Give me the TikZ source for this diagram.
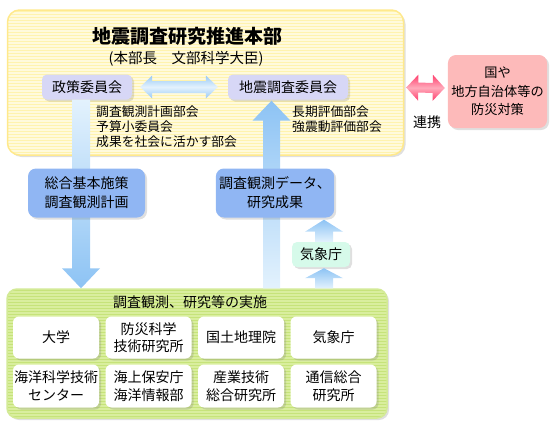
\documentclass[tikz,border=0pt]{standalone}
\usepackage{fontspec}
\setmainfont{Noto Sans CJK JP}
\usetikzlibrary{calc,shadows}
\definecolor{hbyellow}{HTML}{FFF3AE}
\definecolor{hbstripe}{HTML}{FFFADC}
\definecolor{hbedge}{HTML}{FFE98C}
\definecolor{jsgreen}{HTML}{C6E37A}
\definecolor{jsstripe}{HTML}{D9EE9E}
\definecolor{jsedge}{HTML}{D3EA96}
\definecolor{lavender}{HTML}{D7D7F6}
\definecolor{boxblue}{HTML}{90B6F3}
\definecolor{mint}{HTML}{D6FAEA}
\definecolor{pinkbox}{HTML}{FDBABA}
\definecolor{arrowlight}{HTML}{E3F2FD}
\definecolor{arrowblue}{HTML}{8DC3F4}
\definecolor{arrowpink}{HTML}{FF3D6C}
\definecolor{pinklight}{HTML}{FFAABA}

% block arrow: options, from, to, shaft half width, head half width, head length
\newcommand{\blockarrow}[6]{%
  \coordinate (hb) at ($(#3)!#6!(#2)$);
  \shade[#1] ($(#2)!#4!90:(#3)$) -- ($(hb)!#4!90:(#3)$) -- ($(hb)!#5!90:(#3)$)
    -- (#3) -- ($(hb)!#5!-90:(#3)$) -- ($(hb)!#4!-90:(#3)$)
    -- ($(#2)!#4!-90:(#3)$) -- cycle;
}
% double block arrow, same arguments
\newcommand{\dblarrow}[6]{%
  \coordinate (ha) at ($(#2)!#6!(#3)$);
  \coordinate (hb) at ($(#3)!#6!(#2)$);
  \shade[#1] (#2) -- ($(ha)!#5!90:(#3)$) -- ($(ha)!#4!90:(#3)$)
    -- ($(hb)!#4!90:(#3)$) -- ($(hb)!#5!90:(#3)$) -- (#3)
    -- ($(hb)!#5!-90:(#3)$) -- ($(hb)!#4!-90:(#3)$)
    -- ($(ha)!#4!-90:(#3)$) -- ($(ha)!#5!-90:(#3)$) -- cycle;
}

\begin{document}
\begin{tikzpicture}[x=1pt,y=-1pt,
  soft shadow/.style={drop shadow={opacity=0.25,shadow xshift=2pt,shadow yshift=-2pt}},
  honbu box/.style={rounded corners=12pt,fill=hbyellow,draw=hbedge,line width=1.5pt,
    soft shadow,path picture={\foreach \k in {0,...,52}
      \draw[hbstripe,line width=1.3pt] ($(path picture bounding box.north west)+(0,\k*3)$) -- ++(420,0);}},
  jisshi box/.style={rounded corners=10pt,fill=jsgreen,draw=jsedge,line width=1.5pt,
    soft shadow,path picture={\foreach \k in {0,...,46}
      \draw[jsstripe,line width=1.3pt] ($(path picture bounding box.north west)+(0,\k*3)$) -- ++(400,0);}},
  iinkai/.style={fill=lavender,rounded corners=5pt,minimum height=25pt,inner sep=2pt,
    font=\fontsize{14}{17}\selectfont,soft shadow},
  bukai/.style={align=left,inner sep=0pt,font=\fontsize{12.8}{14.6}\selectfont},
  shisaku/.style={fill=boxblue,rounded corners=8pt,minimum width=117pt,minimum height=49pt,
    align=center,font=\fontsize{14}{19}\selectfont,soft shadow},
  kikan/.style={fill=white,rounded corners=6pt,minimum width=86pt,minimum height=42pt,
    align=center,inner sep=1pt,font=\fontsize{14}{17.5}\selectfont,soft shadow},
  plain text/.style={inner sep=0pt,font=\fontsize{14}{17}\selectfont}]
  \useasboundingbox (0,0) rectangle (551,431);

  % containers
  \node[honbu box,minimum width=396pt,minimum height=145pt] (honbu) at (205.5,82.5) {};
  \node[jisshi box,minimum width=380pt,minimum height=129pt] (jisshi) at (197,353.5) {};

  % headquarters
  \node[inner sep=0pt,font=\bfseries\fontsize{19}{22}\selectfont] (title) at (187,36) {地震調査研究推進本部};
  \node[inner sep=0pt,font=\fontsize{14.5}{17}\selectfont] (chief) at (186,59) {(本部長　文部科学大臣)};
  \node[iinkai,minimum width=90pt] (seisaku) at (87,87) {政策委員会};
  \node[iinkai,minimum width=120pt] (jishin) at (288,87) {地震調査委員会};
  \node[bukai,anchor=north west] (keikaku) at (96,106) {調査観測計画部会\\予算小委員会\\成果を社会に活かす部会};
  \node[bukai,anchor=north west] (hyoka) at (292,106) {長期評価部会\\強震動評価部会};

  % research bodies
  \node[plain text] (jisshititle) at (190,302) {調査観測、研究等の実施};
  \node[kikan] (daigaku) at (56,337.5) {大学};
  \node[kikan] (bosaiken) at (148.5,337.5) {防災科学\\技術研究所};
  \node[kikan] (kokudo) at (241,337.5) {国土地理院};
  \node[kikan] (kishoA) at (333.5,337.5) {気象庁};
  \node[kikan,minimum height=43pt] (jamstec) at (56,386) {海洋科学技術\\センター};
  \node[kikan,minimum height=43pt] (kaiyo) at (148.5,386) {海上保安庁\\海洋情報部};
  \node[kikan,minimum height=43pt] (sangyo) at (241,386) {産業技術\\総合研究所};
  \node[kikan,minimum height=43pt] (tsushin) at (333.5,386) {通信総合\\研究所};

  % big arrows
  \coordinate (dtop) at ([xshift=-6pt]seisaku.south);
  \coordinate (dtip) at (dtop |- jisshi.north);
  \blockarrow{top color=arrowlight,bottom color=arrowblue}{dtop}{dtip}{9pt}{19pt}{20pt}
  \coordinate (utip) at ([xshift=-16.5pt,yshift=-1pt]jishin.south);
  \coordinate (ubase) at (utip |- jisshi.north);
  \blockarrow{top color=arrowblue,bottom color=arrowlight}{ubase}{utip}{8.5pt}{19pt}{20pt}
  \dblarrow{top color=arrowblue!90,bottom color=arrowblue!90,middle color=arrowlight}
    {$(seisaku.east)+(8,0)$}{$(jishin.west)+(-10,0)$}{6pt}{11.5pt}{12pt}

  \node[shisaku] (sogo) at (86.5,193) {総合基本施策\\調査観測計画};
  \node[shisaku] (data) at (275,193) {調査観測データ、\\研究成果};
  \node[fill=mint,rounded corners=5pt,minimum width=58pt,minimum height=25pt,
    font=\fontsize{14}{17}\selectfont,soft shadow] (kisho) at (321,254.5) {気象庁};

  % small arrows through the weather agency
  \coordinate (kn) at ([xshift=3pt]kisho.north);
  \coordinate (kt) at (kn |- data.south);
  \blockarrow{top color=arrowblue,bottom color=arrowlight}{kn}{$(kt)+(0,2)$}{9pt}{19pt}{12pt}
  \coordinate (ks) at ([xshift=3pt,yshift=-1pt]kisho.south);
  \coordinate (kb) at (ks |- jisshi.north);
  \blockarrow{top color=arrowblue,bottom color=arrowlight}{kb}{ks}{9pt}{19pt}{10pt}

  % cooperation
  \node[fill=pinkbox,rounded corners=8pt,minimum width=99pt,minimum height=73pt,align=center,
    font=\fontsize{13.2}{18.5}\selectfont,soft shadow] (bosai) at (497.5,91.5) {国や\\地方自治体等の\\防災対策};
  \dblarrow{top color=arrowpink,bottom color=arrowpink,middle color=pinklight}
    {$(honbu.east)+(2,5)$}{$(bosai.west)+(-3,-3.5)$}{5pt}{13pt}{12pt}
  \node[plain text] (renkei) at (427,122) {連携};
\end{tikzpicture}
\end{document}
